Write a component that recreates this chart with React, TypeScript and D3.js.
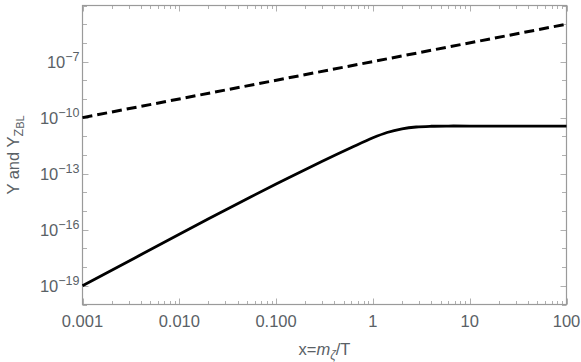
import React, { useRef, useEffect } from "react";
import * as d3 from "d3";

// values
const xRange = [0.001, 100];
const yRange = [1e-20, 1e-4];
const xTickLabels = ["0.001", "0.010", "0.100", "1", "10", "100"];
const yTickExponents = [-19, -16, -13, -10, -7];

const dashedX = [0.001, 100];
const dashedY = [1e-10, 1e-5];

const solidX = [0.001, 0.01, 0.03, 0.1, 0.3, 0.6, 1, 1.4, 2, 2.8, 4, 6, 10, 100];
const solidY = [
  1e-19, 5.75e-17, 1.15e-15, 2.8e-14, 4.6e-13, 2.5e-12, 8.3e-12, 1.6e-11,
  2.5e-11, 3.15e-11, 3.45e-11, 3.55e-11, 3.55e-11, 3.55e-11,
];

const W = 581;
const H = 362;

const App = () => {
  const ref = useRef<SVGSVGElement>(null);

  useEffect(() => {
    const margin = { top: 5.5, right: 14.5, bottom: 57.5, left: 82.5 };
    const svg = d3.select(ref.current);
    svg.selectAll("*").remove();

    const x = d3.scaleLog().domain(xRange).range([margin.left, W - margin.right]);
    const y = d3.scaleLog().domain(yRange).range([H - margin.bottom, margin.top]);
    const [x0, x1] = x.range();
    const [y0, y1] = y.range();

    const frameColor = "#9a9a9a";
    const tickColor = "#b0b0b0";
    const textColor = "#5a6166";
    const font = "Liberation Sans, Arial, sans-serif";
    const fs = 16.5;

    // ticks (inside, mirrored on top/right)
    const g = svg.append("g").attr("stroke", tickColor).attr("stroke-width", 1);
    for (let e = -3; e <= 2; e++) {
      for (let m = 1; m <= 9; m++) {
        const v = m * Math.pow(10, e);
        if (v < xRange[0] || v > xRange[1]) continue;
        const len = m === 1 ? 6 : 3.5;
        const px = Math.round(x(v)) + 0.5;
        g.append("line").attr("x1", px).attr("x2", px).attr("y1", y0).attr("y2", y0 - len);
        g.append("line").attr("x1", px).attr("x2", px).attr("y1", y1).attr("y2", y1 + len);
      }
    }
    for (let e = -20; e <= -4; e++) {
      const v = Math.pow(10, e);
      const len = yTickExponents.includes(e) ? 6 : 4.5;
      const py = Math.round(y(v)) + 0.5;
      g.append("line").attr("x1", x0).attr("x2", x0 + len).attr("y1", py).attr("y2", py);
      g.append("line").attr("x1", x1).attr("x2", x1 - len).attr("y1", py).attr("y2", py);
    }

    // frame
    svg
      .append("rect")
      .attr("x", x0)
      .attr("y", y1)
      .attr("width", x1 - x0)
      .attr("height", y0 - y1)
      .attr("fill", "none")
      .attr("stroke", frameColor)
      .attr("stroke-width", 1.2);

    // x tick labels
    xTickLabels.forEach((t) => {
      svg
        .append("text")
        .attr("x", x(+t))
        .attr("y", 327)
        .attr("text-anchor", "middle")
        .attr("font-family", font)
        .attr("font-size", fs)
        .attr("fill", textColor)
        .text(t);
    });

    // y tick labels
    yTickExponents.forEach((e) => {
      const tx = svg
        .append("text")
        .attr("x", x0 - 3)
        .attr("y", y(Math.pow(10, e)) + 6.5)
        .attr("text-anchor", "end")
        .attr("font-family", font)
        .attr("font-size", fs)
        .attr("fill", textColor);
      tx.append("tspan").text("10");
      tx.append("tspan")
        .attr("dy", -7.5)
        .attr("font-size", 12.5)
        .text("\u2212" + Math.abs(e));
    });

    // axis titles
    const xl = svg
      .append("text")
      .attr("x", (x0 + x1) / 2)
      .attr("y", 355)
      .attr("text-anchor", "middle")
      .attr("font-family", font)
      .attr("font-size", fs)
      .attr("fill", textColor);
    xl.append("tspan").text("x=");
    xl.append("tspan").attr("font-style", "italic").text("m");
    xl.append("tspan").attr("font-style", "italic").attr("font-size", 12).attr("dy", 4).text("ζ");
    xl.append("tspan").attr("dy", -4).text("/T");

    const yl = svg
      .append("text")
      .attr("transform", `translate(19,${(y0 + y1) / 2}) rotate(-90)`)
      .attr("text-anchor", "middle")
      .attr("font-family", font)
      .attr("font-size", fs)
      .attr("fill", textColor);
    yl.append("tspan").text("Y and Y");
    yl.append("tspan").attr("font-size", 12.5).attr("dy", 4).text("Z");
    yl.append("tspan").attr("font-size", 11).attr("dy", 1).text("BL");

    const line = d3
      .line<number>()
      .x((d) => x(d))
      .curve(d3.curveCatmullRom.alpha(0.5));

    svg
      .append("path")
      .attr("d", line.y((d, i) => y(dashedY[i]))(dashedX))
      .attr("fill", "none")
      .attr("stroke", "#000")
      .attr("stroke-width", 3)
      .attr("stroke-dasharray", "10,5");

    svg
      .append("path")
      .attr("d", line.y((d, i) => y(solidY[i]))(solidX))
      .attr("fill", "none")
      .attr("stroke", "#000")
      .attr("stroke-width", 2.8);
  }, []);

  return (
    <svg
      ref={ref}
      width={W}
      height={H}
      style={{ position: "absolute", left: 0, top: 0, background: "#fff" }}
    />
  );
};

export default App;
